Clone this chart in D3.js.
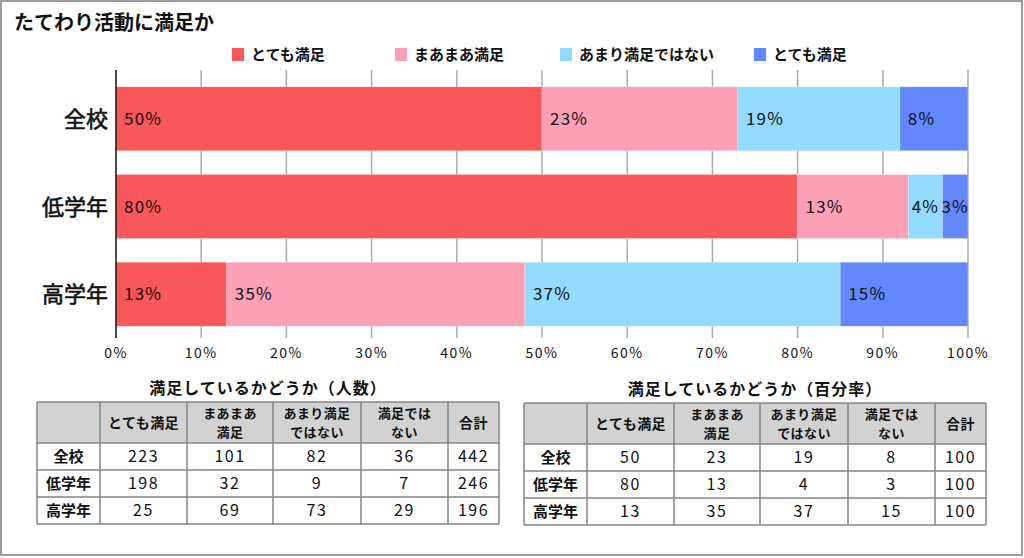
<!DOCTYPE html>
<html><head><meta charset="utf-8">
<script src="https://cdn.jsdelivr.net/npm/d3@7"></script>
<style>
html,body{margin:0;padding:0;background:#fff;}
svg{display:block;font-family:"Noto Sans CJK JP","Noto Sans",sans-serif;}
</style></head>
<body><svg id="c" width="1024" height="558"></svg>
<script>
// ---- data ----
const title = "たてわり活動に満足か";
const categories = ["全校", "低学年", "高学年"];
const seriesNames = ["とても満足", "まあまあ満足", "あまり満足ではない", "とても満足"];
const seriesColors = ["#F95759", "#FEA0B5", "#93DBFE", "#6388FE"];
const verySatisfied = [50, 80, 13];
const fairlySatisfied = [23, 13, 35];
const notVerySatisfied = [19, 4, 37];
const notSatisfied = [8, 3, 15];
const xTicks = [0, 10, 20, 30, 40, 50, 60, 70, 80, 90, 100];

const tableHeaders = ["", "とても満足", "まあまあ\n満足", "あまり満足\nではない", "満足では\nない", "合計"];
const countTitle = "満足しているかどうか（人数）";
const pctTitle = "満足しているかどうか（百分率）";
const countVery = [223, 198, 25];
const countFairly = [101, 32, 69];
const countNotVery = [82, 9, 73];
const countNot = [36, 7, 29];
const countTotal = [442, 246, 196];
const pctTotal = [100, 100, 100];

// ---- layout ----
const svg = d3.select("#c");
svg.append("rect").attr("x",1).attr("y",1).attr("width",1021).attr("height",554)
  .attr("fill","#fff").attr("stroke","#9c9c9c").attr("stroke-width",2);

svg.append("text").attr("x",14).attr("y",30).attr("font-size",20).attr("font-weight","bold")
  .attr("fill","#111").text(title);

const seriesArr = [verySatisfied, fairlySatisfied, notVerySatisfied, notSatisfied];
const rows = categories.map((c,i)=>{ const o={cat:c}; seriesArr.forEach((s,k)=>o["s"+k]=s[i]); return o; });
const keys = seriesArr.map((_,k)=>"s"+k);
const stacked = d3.stack().keys(keys)(rows);

const x = d3.scaleLinear().domain([0,100]).range([116,968]);
const y = d3.scaleBand().domain(categories).range([78,335]).paddingInner(0.27).paddingOuter(0.1);
const gridTop = 70, gridBottom = 338;

// gridlines
svg.append("g").selectAll("line").data(xTicks.slice(1)).join("line")
  .attr("x1",d=>x(d)).attr("x2",d=>x(d)).attr("y1",gridTop).attr("y2",gridBottom)
  .attr("stroke","#aaaaaa").attr("stroke-width",1.5);

// bars
const gBars = svg.append("g");
stacked.forEach((layer,k)=>{
  gBars.append("g").attr("fill",seriesColors[k]).selectAll("rect").data(layer).join("rect")
    .attr("x",d=>x(d[0])).attr("y",d=>y(d.data.cat))
    .attr("width",d=>x(d[1])-x(d[0])).attr("height",y.bandwidth())
    .attr("stroke","rgba(255,255,255,0.45)").attr("stroke-width",0.6);
});
// bar labels
stacked.forEach((layer,k)=>{
  gBars.append("g").selectAll("text").data(layer).join("text")
    .attr("y",d=>y(d.data.cat)+y.bandwidth()/2+6)
    .attr("font-size",17).attr("letter-spacing",1.2).attr("fill","#111")
    .text(d=>(d[1]-d[0])+"%")
    .each(function(d){
      const w = x(d[1])-x(d[0]);
      const tw = this.getComputedTextLength();
      const off = Math.min(8, (w-tw)/2);
      d3.select(this).attr("x", x(d[0])+off);
    });
});

// y axis line
svg.append("line").attr("x1",x(0)).attr("x2",x(0)).attr("y1",gridTop).attr("y2",gridBottom)
  .attr("stroke","#111").attr("stroke-width",1.5);

// category labels
svg.append("g").selectAll("text").data(categories).join("text")
  .attr("x",108).attr("y",d=>y(d)+y.bandwidth()/2+8).attr("text-anchor","end")
  .attr("font-size",22).attr("fill","#111").attr("stroke","#111").attr("stroke-width",0.6).text(d=>d);

// x tick labels
svg.append("g").selectAll("text").data(xTicks).join("text")
  .attr("x",d=>x(d)).attr("y",358).attr("text-anchor","middle")
  .attr("font-size",14).attr("letter-spacing",1.5).attr("fill","#111").text(d=>d+"%");

// legend
const legendX = [232, 395, 560, 754];
const lg = svg.append("g").selectAll("g").data(seriesNames).join("g")
  .attr("transform",(d,i)=>`translate(${legendX[i]},48)`);
lg.append("rect").attr("width",12).attr("height",13).attr("fill",(d,i)=>seriesColors[i]);
lg.append("text").attr("x",19).attr("y",12).attr("font-size",15).attr("font-weight","bold")
  .attr("fill","#111").text(d=>d);

// tables
const colWidths = [63, 87, 86, 88, 87, 51];
const rowHeights = [41, 27, 27, 27];
function drawTable(x0, y0, titleText, cols){
  const g = svg.append("g");
  const totalW = d3.sum(colWidths);
  const cx = d3.cumsum([0].concat(colWidths)).map(v=>x0+v);
  const cy = d3.cumsum([0].concat(rowHeights)).map(v=>y0+v);
  g.append("text").attr("x",x0+totalW/2).attr("y",y0-8).attr("text-anchor","middle")
    .attr("font-size",16).attr("letter-spacing",1).attr("font-weight","bold").attr("fill","#111").text(titleText);
  g.append("rect").attr("x",x0).attr("y",y0).attr("width",totalW).attr("height",rowHeights[0]).attr("fill","#d2d2d2");
  // grid
  cx.forEach(v=>g.append("line").attr("x1",v).attr("x2",v).attr("y1",cy[0]).attr("y2",cy[cy.length-1])
    .attr("stroke","#858585").attr("stroke-width",1.5));
  cy.forEach(v=>g.append("line").attr("x1",cx[0]).attr("x2",cx[cx.length-1]).attr("y1",v).attr("y2",v)
    .attr("stroke","#858585").attr("stroke-width",1.5));
  // header
  tableHeaders.forEach((h,j)=>{
    if(!h) return;
    const lines = h.split("\n");
    const mid = (cx[j]+cx[j+1])/2, cyc = y0+rowHeights[0]/2;
    const fs = lines.length > 1 ? 13 : 14;
    lines.forEach((ln,k)=>{
      g.append("text").attr("text-anchor","middle").attr("font-size",fs).attr("font-weight","bold")
        .attr("letter-spacing",0.4).attr("fill","#111")
        .attr("x",mid).attr("y",cyc+5+(k-(lines.length-1)/2)*19).text(ln);
    });
  });
  // body
  categories.forEach((c,i)=>{
    const ym = (cy[i+1]+cy[i+2])/2+5.5;
    g.append("text").attr("x",(cx[0]+cx[1])/2).attr("y",ym).attr("text-anchor","middle")
      .attr("font-size",15).attr("font-weight","bold").attr("fill","#111").text(c);
    cols.forEach((arr,j)=>{
      g.append("text").attr("x",(cx[j+1]+cx[j+2])/2).attr("y",ym).attr("text-anchor","middle")
        .attr("font-size",16).attr("letter-spacing",1.5).attr("fill","#111").text(arr[i]);
    });
  });
}
drawTable(37, 402, countTitle, [countVery, countFairly, countNotVery, countNot, countTotal]);
drawTable(524, 403, pctTitle, [verySatisfied, fairlySatisfied, notVerySatisfied, notSatisfied, pctTotal]);
</script></body></html>
